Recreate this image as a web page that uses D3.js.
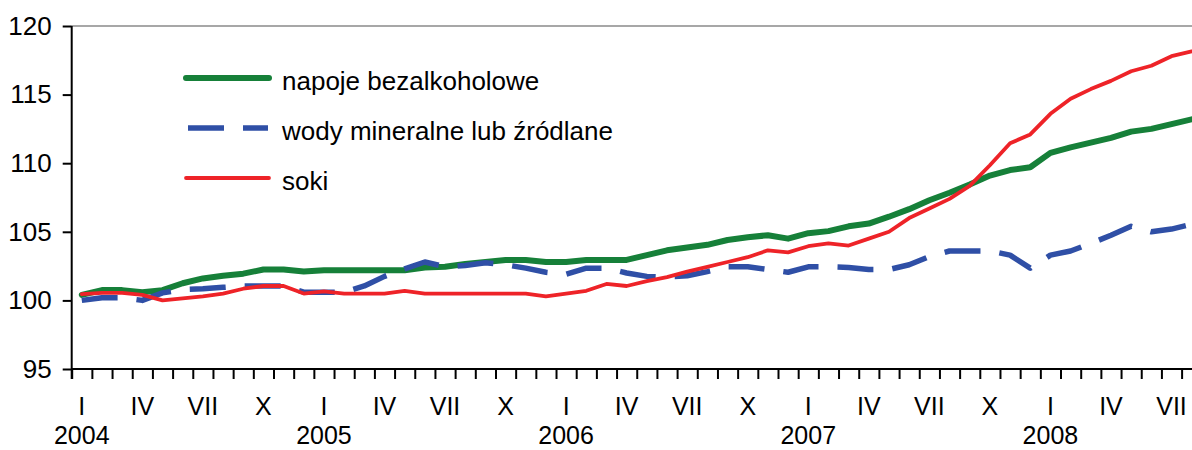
<!DOCTYPE html>
<html>
<head>
<meta charset="utf-8">
<script src="https://cdn.jsdelivr.net/npm/d3@7"></script>
<style>
  html, body { margin: 0; padding: 0; background: #fff; }
  svg { display: block; font-family: Arial, "Liberation Sans", sans-serif; }
</style>
</head>
<body>
<div id="chart"></div>
<script>
// months Jan 2004 .. Aug 2008
const months = d3.timeMonth.range(new Date(2004, 0, 1), new Date(2008, 8, 1))
const quarterLabels = ["I", "IV", "VII", "X"]
const years = [2004, 2005, 2006, 2007, 2008]
const yTicks = [95, 100, 105, 110, 115, 120]

const napoje = [
  100.4, 100.75, 100.75, 100.6, 100.75, 101.25, 101.6, 101.8, 101.95, 102.25, 102.25, 102.1,
  102.2, 102.2, 102.2, 102.2, 102.2, 102.4, 102.45, 102.65, 102.8, 102.95, 102.95, 102.8,
  102.8, 102.95, 102.95, 102.95, 103.3, 103.65, 103.85, 104.05, 104.4, 104.6, 104.75, 104.5,
  104.9, 105.05, 105.4, 105.6, 106.1, 106.65, 107.3, 107.85, 108.45, 109.1, 109.5, 109.7,
  110.75, 111.15, 111.5, 111.85, 112.3, 112.5, 112.85, 113.2
]
const wody = [
  100.0, 100.2, 100.2, 100.0, 100.55, 100.8, 100.85, 100.95, 101.05, 101.05, 101.05, 100.6,
  100.6, 100.6, 101.05, 101.75, 102.3, 102.8, 102.45, 102.55, 102.75, 102.6, 102.35, 102.05,
  101.9, 102.35, 102.35, 102.0, 101.75, 101.7, 101.8, 102.1, 102.45, 102.45, 102.25, 102.05,
  102.45, 102.45, 102.4, 102.25, 102.25, 102.6, 103.2, 103.6, 103.6, 103.6, 103.3, 102.35,
  103.3, 103.6, 104.15, 104.75, 105.4, 105.0, 105.2, 105.55
]
const soki = [
  100.45, 100.55, 100.55, 100.4, 100.0, 100.15, 100.3, 100.5, 100.85, 101.05, 101.05, 100.5,
  100.65, 100.5, 100.5, 100.5, 100.7, 100.5, 100.5, 100.5, 100.5, 100.5, 100.5, 100.3,
  100.5, 100.7, 101.2, 101.05, 101.4, 101.7, 102.1, 102.45, 102.8, 103.15, 103.65, 103.5,
  103.95, 104.15, 104.0, 104.5, 105.0, 106.0, 106.7, 107.4, 108.35, 109.85, 111.45, 112.1,
  113.6, 114.7, 115.4, 116.0, 116.7, 117.1, 117.8, 118.15
]

const series = [
  { name: "napoje bezalkoholowe", values: napoje, color: "#168039", width: 6, dash: null, cap: "round" },
  { name: "wody mineralne lub źródlane", values: wody, color: "#2f4fa6", width: 5.5, dash: "36,19", cap: "butt" },
  { name: "soki", values: soki, color: "#ee2328", width: 3.8, dash: null, cap: "round" }
]

const W = 1192, H = 450
const plotLeft = 71.7, plotTop = 26, plotBottom = 369, monthW = 20.18
const fontSize = 26

const svg = d3.select("#chart").append("svg")
  .attr("width", W)
  .attr("height", H)

const x = d3.scaleLinear().domain([0, months.length]).range([plotLeft, plotLeft + months.length * monthW])
const y = d3.scaleLinear().domain([95, 120]).range([plotBottom, plotTop])

// top border
svg.append("line")
  .attr("x1", plotLeft).attr("x2", W)
  .attr("y1", y(120)).attr("y2", y(120))
  .attr("stroke", "#8a8a8a").attr("stroke-width", 1.6)

// y axis
const yAxis = svg.append("g")
  .attr("transform", `translate(${plotLeft},0)`)
  .call(d3.axisLeft(y).tickValues(yTicks).tickSize(9).tickPadding(11).tickFormat(d3.format("d")))
yAxis.select(".domain").attr("stroke", "#000").attr("stroke-width", 2)
  .attr("d", `M0,${y(120)}V${plotBottom + 10}`)
yAxis.selectAll(".tick line").attr("stroke", "#000").attr("stroke-width", 2)
yAxis.selectAll(".tick text").attr("font-size", fontSize).attr("fill", "#000")
  .attr("font-family", "Arial, 'Liberation Sans', sans-serif")

// x axis: ticks at month boundaries
const xAxis = svg.append("g")
  .attr("transform", `translate(0,${plotBottom})`)
  .call(d3.axisBottom(x).tickValues(d3.range(0, months.length + 1)).tickSize(10).tickFormat(""))
xAxis.select(".domain").attr("stroke", "#000").attr("stroke-width", 2)
  .attr("d", `M${plotLeft},0H${W}`)
xAxis.selectAll(".tick line").attr("stroke", "#000").attr("stroke-width", 2)

// month labels
const labelG = svg.append("g").attr("font-size", 25).attr("fill", "#000").attr("text-anchor", "middle")
months.forEach((m, i) => {
  if (m.getMonth() % 3 === 0) {
    labelG.append("text")
      .attr("x", x(i + 0.5))
      .attr("y", 415)
      .text(quarterLabels[m.getMonth() / 3])
  }
})
years.forEach(yr => {
  const i = months.findIndex(m => m.getFullYear() === yr && m.getMonth() === 0)
  labelG.append("text")
    .attr("x", x(i + 0.5))
    .attr("y", 444)
    .text(yr)
})

// lines
const line = d3.line()
  .x((d, i) => x(i + 0.5))
  .y(d => y(d))

series.forEach(s => {
  svg.append("path")
    .datum(s.values)
    .attr("d", line)
    .attr("fill", "none")
    .attr("stroke", s.color)
    .attr("stroke-width", s.width)
    .attr("stroke-linejoin", "round")
    .attr("stroke-linecap", s.cap)
    .attr("stroke-dasharray", s.dash)
})

// legend
const legend = svg.append("g")
series.forEach((s, k) => {
  const ly = 78 + k * 50
  legend.append("line")
    .attr("x1", s.dash ? 188 : 186).attr("x2", s.dash ? 268 : 269)
    .attr("y1", ly).attr("y2", ly)
    .attr("stroke", s.color)
    .attr("stroke-width", s.width)
    .attr("stroke-linecap", s.cap)
    .attr("stroke-dasharray", s.dash)
  legend.append("text")
    .attr("x", 282)
    .attr("y", ly + 12)
    .attr("font-size", fontSize)
    .attr("fill", "#000")
    .text(s.name)
})
</script>
</body>
</html>
